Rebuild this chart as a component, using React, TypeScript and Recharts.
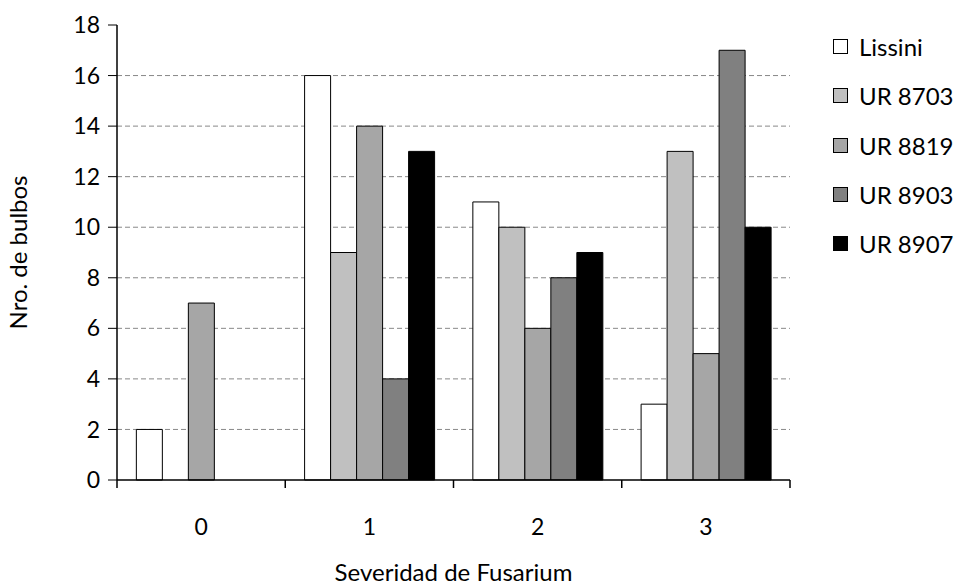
import React from 'react';
import { BarChart, Bar, XAxis, YAxis, CartesianGrid } from 'recharts';

const categories = ['0', '1', '2', '3'];
const lissini = [2, 16, 11, 3];
const ur8703 = [0, 9, 10, 13];
const ur8819 = [7, 14, 6, 5];
const ur8903 = [0, 4, 8, 17];
const ur8907 = [0, 13, 9, 10];
const yTicks = [0, 2, 4, 6, 8, 10, 12, 14, 16, 18];

const series = [
  { key: 'lissini', name: 'Lissini', fill: '#ffffff' },
  { key: 'ur8703', name: 'UR 8703', fill: '#c0c0c0' },
  { key: 'ur8819', name: 'UR 8819', fill: '#a6a6a6' },
  { key: 'ur8903', name: 'UR 8903', fill: '#808080' },
  { key: 'ur8907', name: 'UR 8907', fill: '#000000' },
];

const data = categories.map((c, i) => ({
  cat: c,
  lissini: lissini[i],
  ur8703: ur8703[i],
  ur8819: ur8819[i],
  ur8903: ur8903[i],
  ur8907: ur8907[i],
}));

const FONT = 'Lato, "Open Sans", sans-serif';
const W = 962;
const H = 588;
const M = { top: 25, right: 172, left: 0, bottom: 0 };
const Y_W = 117;
const BAND = (W - M.left - M.right - Y_W) / categories.length;

const CatTick = ({ x, y, payload, index }: any) => {
  const half = BAND / 2;
  return (
    <g>
      <line x1={x - half} x2={x - half} y1={y} y2={y + 8} stroke="#000" strokeWidth={1.5} />
      {index === categories.length - 1 && (
        <line x1={x + half} x2={x + half} y1={y} y2={y + 8} stroke="#000" strokeWidth={1.5} />
      )}
      <text x={x} y={y + 55} textAnchor="middle" fill="#000" fontSize={23} fontFamily={FONT}>
        {payload.value}
      </text>
    </g>
  );
};

const LegendBox = () => (
  <div
    style={{
      position: 'absolute',
      left: 833,
      top: 22,
      fontFamily: FONT,
      fontSize: 24,
      color: '#000',
    }}
  >
    {series.map((s) => (
      <div key={s.key} style={{ display: 'flex', alignItems: 'center', height: 49.3 }}>
        <span
          style={{
            display: 'inline-block',
            width: 13,
            height: 13,
            background: s.fill,
            border: '1px solid #000',
            marginRight: 11,
          }}
        />
        <span>{s.name}</span>
      </div>
    ))}
  </div>
);

export default function App() {
  return (
    <div style={{ position: 'absolute', left: 0, top: 0, width: W, height: H, background: '#fff' }}>
      <BarChart width={W} height={H} data={data} margin={M} barCategoryGap="11.5%" barGap={0}>
        <CartesianGrid
          vertical={false}
          stroke="#888"
          strokeDasharray="5 3"
          horizontalValues={[2, 4, 6, 8, 10, 12, 14, 16]}
        />
        <XAxis
          dataKey="cat"
          height={108}
          axisLine={{ stroke: '#000', strokeWidth: 1.5 }}
          tickLine={false}
          tickSize={0}
          tickMargin={0}
          tick={<CatTick />}
          interval={0}
          label={{
            value: 'Severidad de Fusarium',
            position: 'insideBottom',
            offset: 7,
            fill: '#000',
            fontSize: 24,
            fontFamily: FONT,
          }}
        />
        <YAxis
          width={Y_W}
          domain={[0, 18]}
          ticks={yTicks}
          interval={0}
          axisLine={{ stroke: '#000', strokeWidth: 1.5 }}
          tickLine={{ stroke: '#000', strokeWidth: 1 }}
          tickSize={9}
          tickMargin={8}
          tick={{ fill: '#000', fontSize: 23, fontFamily: FONT }}
          label={{
            value: 'Nro. de bulbos',
            angle: -90,
            position: 'insideLeft',
            offset: 18,
            style: { textAnchor: 'middle' },
            fill: '#000',
            fontSize: 24,
            fontFamily: FONT,
          }}
        />
        {series.map((s) => (
          <Bar
            key={s.key}
            dataKey={s.key}
            name={s.name}
            fill={s.fill}
            stroke="#000"
            strokeWidth={1}
            isAnimationActive={false}
          />
        ))}
      </BarChart>
      <LegendBox />
    </div>
  );
}
